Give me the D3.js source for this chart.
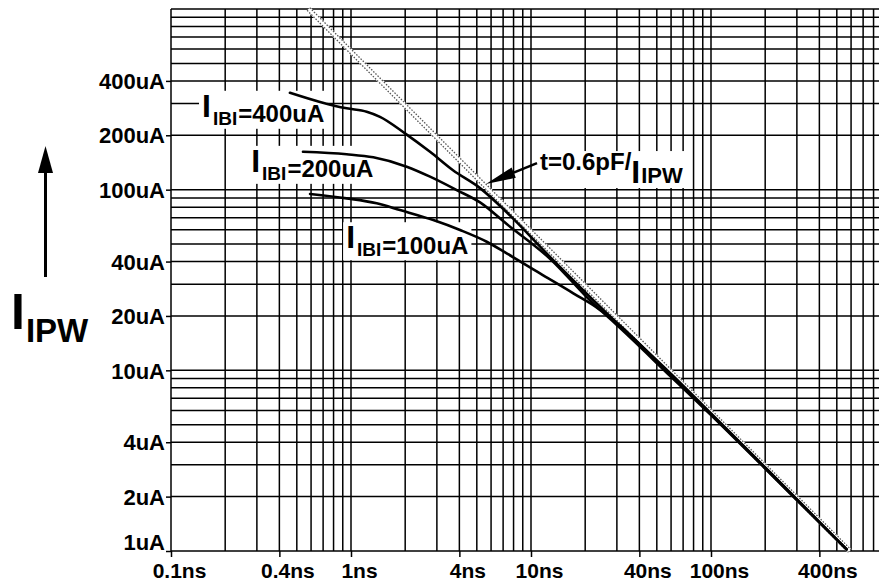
<!DOCTYPE html>
<html><head><meta charset="utf-8">
<script src="https://cdn.jsdelivr.net/npm/d3@7/dist/d3.min.js"></script>
<style>
html,body{margin:0;padding:0;background:#fff;}
svg{display:block;font-family:"Liberation Sans",Arial,sans-serif;font-weight:bold;}
</style></head>
<body>
<svg id="chart" width="879" height="585"></svg>
<script>
// ---- data ----
const xTickValues = [0.1, 0.4, 1, 4, 10, 40, 100, 400];
const xTickLabels = ["0.1ns", "0.4ns", "1ns", "4ns", "10ns", "40ns", "100ns", "400ns"];
const yTickValues = [1, 2, 4, 10, 20, 40, 100, 200, 400];
const yTickLabels = ["1uA", "2uA", "4uA", "10uA", "20uA", "40uA", "100uA", "200uA", "400uA"];

const t400 = [0.458, 0.673, 0.946, 1.222, 1.449, 1.995, 2.748, 3.687, 5.21, 7.33, 12.75, 26.35, 60, 100, 200, 400, 567];
const i400 = [344, 306, 282, 270, 253, 205, 162, 128, 102, 75, 42.5, 20.7, 9.55, 5.78, 2.9, 1.45, 1.02];
const t200 = [0.541, 0.946, 1.33, 2.04, 2.748, 3.866, 5.21, 7.33, 12.75, 23.17, 30, 60, 100, 200, 400, 567];
const i200 = [162, 157, 151, 134, 118, 99.5, 85, 64.5, 41.5, 22.5, 18.3, 9.4, 5.72, 2.88, 1.44, 1.02];
const t100 = [0.592, 0.946, 1.389, 1.872, 2.866, 4.034, 5.675, 7.33, 11.22, 17.18, 24.17, 30, 60, 100, 200, 400, 567];
const i100 = [94.6, 89.5, 84, 77.1, 67.9, 59.8, 51.5, 44.4, 34.4, 26.7, 21.6, 17.8, 9.2, 5.65, 2.86, 1.44, 1.02];
// reference line t = 0.6pF / I  (I in uA, t in ns)
const tRef = [0.58, 590];
const iRef = [1000, 1];

const curveLabels = ["400uA", "200uA", "100uA"];

// ---- layout ----
const svg = d3.select("#chart");
const x = d3.scaleLog().domain([0.1, 1000]).range([171, 891]);
const y = d3.scaleLog().domain([1, 1000]).range([551, 9]);
const W = 879;
const FONT = '"Liberation Sans",Arial,sans-serif';

const gGrid = svg.append("g");
const gMask = svg.append("g");
const gRef = svg.append("g");
const gCurves = svg.append("g");
const gText = svg.append("g");

// minor grid values
const gridX = [], gridY = [];
[0.1, 1, 10, 100].forEach(d => { for (let k = 1; k <= 9; k++) gridX.push(d * k); });
gridX.push(1000);
[1, 10, 100].forEach(d => { for (let k = 1; k <= 9; k++) gridY.push(d * k); });
gridY.push(1000);

gGrid.attr("stroke", "#000").attr("stroke-width", 1.5);
gGrid.selectAll("line.v").data(gridX.filter(v => x(v) <= W + 2)).join("line")
  .attr("x1", d => x(d)).attr("x2", d => x(d)).attr("y1", y(1000)).attr("y2", y(1));
gGrid.selectAll("line.h").data(gridY).join("line")
  .attr("x1", x(0.1)).attr("x2", W).attr("y1", d => y(d)).attr("y2", d => y(d));

// axes (ticks + labels)
const xAxis = d3.axisBottom(x).tickValues(xTickValues).tickFormat((d, i) => xTickLabels[i]).tickSize(6).tickPadding(6);
const gx = svg.append("g").attr("transform", `translate(0,${y(1)})`).call(xAxis);
gx.select(".domain").remove();
gx.selectAll("line").attr("stroke", "#000").attr("stroke-width", 1.5);
gx.selectAll("text").attr("font-size", 21).attr("font-weight", "bold").attr("fill", "#000")
  .attr("font-family", FONT).attr("dx", 8);

const yAxis = d3.axisLeft(y).tickValues(yTickValues).tickFormat((d, i) => yTickLabels[i]).tickSize(5).tickPadding(1);
const gy = svg.append("g").attr("transform", `translate(${x(0.1)},0)`).call(yAxis);
gy.select(".domain").remove();
gy.selectAll("line").attr("stroke", "#000").attr("stroke-width", 1.5);
gy.selectAll("text").attr("font-size", 22).attr("font-weight", "bold").attr("fill", "#000")
  .attr("font-family", FONT)
  .attr("dy", (d, i) => d === 1 ? "-0.05em" : "0.35em");

// reference dotted line
const line = d3.line().x(d => x(d[0])).y(d => y(d[1]));
const refPts = tRef.map((t, i) => [t, iRef[i]]);
gRef.append("path").attr("d", line(refPts)).attr("fill", "none").attr("stroke", "#fff").attr("stroke-width", 5);
[[1.3, -1.3], [-1.3, 1.3]].forEach(o => {
  gRef.append("path").attr("d", line(refPts)).attr("transform", `translate(${o[0]},${o[1]})`)
    .attr("fill", "none").attr("stroke", "#555").attr("stroke-width", 1.3).attr("stroke-dasharray", "1.5 1.5");
});

// curves
const cline = d3.line().x(d => x(d[0])).y(d => y(d[1])).curve(d3.curveMonotoneX);
[[t400, i400], [t200, i200], [t100, i100]].forEach(s => {
  const pts = s[0].map((t, i) => [t, s[1][i]]);
  gCurves.append("path").attr("d", cline(pts)).attr("fill", "none").attr("stroke", "#000")
    .attr("stroke-width", 2.6).attr("stroke-linejoin", "round").attr("stroke-linecap", "round");
});

// curve labels (positions in data units)
const labelPos = [[0.1487, 236], [0.279, 117], [0.94, 44.2]];
function maskFor(txt, padX, padTop, padBot) {
  const bb = txt.node().getBBox();
  gMask.append("rect").attr("fill", "#fff")
    .attr("x", bb.x - padX).attr("y", bb.y + padTop)
    .attr("width", bb.width + 2 * padX).attr("height", bb.height - padTop - padBot);
}
curveLabels.forEach((lab, i) => {
  const txt = gText.append("text").attr("x", x(labelPos[i][0])).attr("y", y(labelPos[i][1])).attr("fill", "#000");
  txt.append("tspan").attr("font-size", 32).attr("dy", -5.5).text("I");
  txt.append("tspan").attr("font-size", 19).attr("dx", 2).attr("dy", 8).text("IBI");
  txt.append("tspan").attr("font-size", 24).attr("dx", 1).attr("dy", -2.5).text("=" + lab);
  maskFor(txt, 3, 3, 0);
});

// formula label + arrow
const fPos = [11.22, 128.4];
{
  const txt = gText.append("text").attr("x", x(fPos[0])).attr("y", y(fPos[1])).attr("fill", "#000");
  txt.append("tspan").attr("font-size", 24).text("t=0.6pF/");
  txt.append("tspan").attr("font-size", 32).attr("dy", 13).text("I");
  txt.append("tspan").attr("font-size", 22).attr("dx", 1).text("IPW");
  maskFor(txt, 3, 3, 2);
}
const arrowFrom = [10.8, 140.4], arrowTip = [5.62, 107.4];
{
  const x0 = x(arrowFrom[0]), y0 = y(arrowFrom[1]), x1 = x(arrowTip[0]), y1 = y(arrowTip[1]);
  const ang = Math.atan2(y1 - y0, x1 - x0);
  const L = 30, w = 5.5;
  const bx = x1 - L * Math.cos(ang), by = y1 - L * Math.sin(ang);
  const nx = -Math.sin(ang), ny = Math.cos(ang);
  gText.append("line").attr("x1", x0).attr("y1", y0).attr("x2", bx).attr("y2", by).attr("stroke", "#000").attr("stroke-width", 2.5);
  gText.append("path").attr("d", `M${x1},${y1}L${bx + nx * w},${by + ny * w}L${bx - nx * w},${by - ny * w}Z`).attr("fill", "#000");
}

// y-axis title with arrow
svg.append("line").attr("x1", 45.5).attr("x2", 45.5).attr("y1", 277).attr("y2", 170).attr("stroke", "#000").attr("stroke-width", 3);
svg.append("path").attr("d", "M45.5,146L53,173L38,173Z").attr("fill", "#000");
{
  const txt = svg.append("text").attr("x", 11).attr("y", 329).attr("fill", "#000");
  txt.append("tspan").attr("font-size", 50).text("I");
  txt.append("tspan").attr("font-size", 33).attr("dx", 1).attr("dy", 13).text("IPW");
}
</script>
</body></html>
